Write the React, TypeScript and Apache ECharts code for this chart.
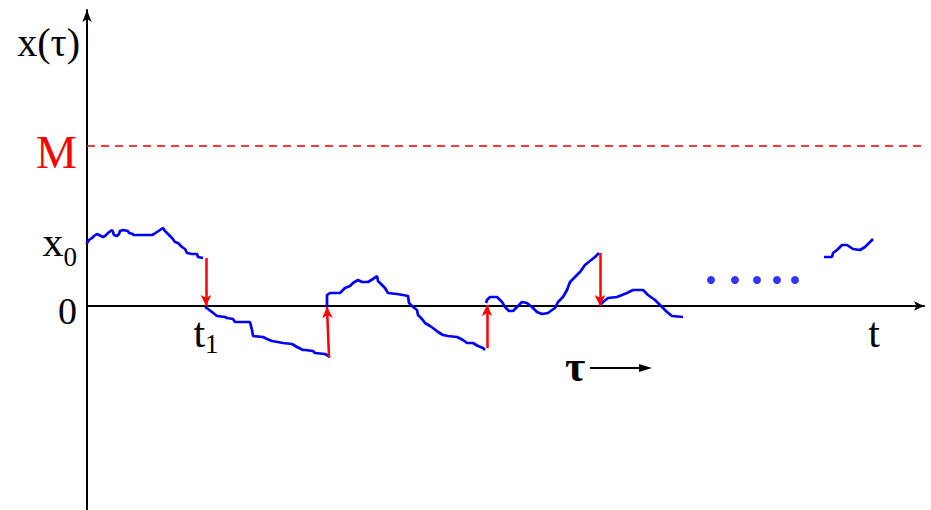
import React, { useEffect, useRef } from "react";
import * as echarts from "echarts";

// Walk excursions (τ, x) between resets
const excursion1: number[][] = [
  [0, 62], [0, 63], [2, 66], [5, 68], [7, 70], [10, 72], [12, 71], [16, 69], [18, 70], [21, 73],
  [25, 76], [26, 74], [27, 71], [30, 70], [32, 72], [33, 75], [36, 76], [41, 75], [42, 73], [46, 72],
  [46, 71], [65, 71], [67, 72], [70, 74], [73, 76], [76, 78], [78, 75], [81, 72], [85, 68], [88, 64],
  [91, 63], [95, 59], [98, 57], [100, 53], [105, 52], [110, 52], [111, 49], [116, 48],
];
const excursion2: number[][] = [
  [118, -1], [121, -3], [125, -6], [130, -10], [138, -11], [140, -12], [146, -13], [148, -16],
  [163, -16], [165, -24], [166, -30], [176, -31], [180, -33], [185, -35], [196, -37], [205, -38],
  [210, -41], [216, -44], [218, -44], [226, -45], [228, -47], [238, -48], [243, -51],
];
const excursion3: number[][] = [
  [240, -1], [240, 11], [243, 13], [253, 13], [255, 15], [258, 18], [263, 20], [266, 23], [271, 26],
  [275, 24], [281, 24], [286, 27], [290, 30], [291, 25], [295, 21], [298, 18], [301, 13], [310, 12],
  [316, 11], [321, 10], [322, 3], [326, -1], [330, -4], [331, -9], [335, -13], [338, -17], [343, -20],
  [346, -22], [351, -26], [356, -29], [361, -30], [370, -31], [376, -34], [380, -37], [386, -37],
  [391, -40], [396, -42], [398, -44],
];
const excursion4: number[][] = [
  [399, 3], [400, 6], [403, 9], [410, 9], [415, 4], [418, -1], [422, -5], [426, -5], [430, -1],
  [435, 4], [440, 3], [445, -1], [450, -6], [455, -8], [461, -7], [465, -4], [468, -2], [471, 4],
  [476, 9], [480, 16], [483, 24], [488, 29], [493, 34], [498, 41], [503, 45], [508, 49], [512, 53],
];
const excursion5: number[][] = [
  [513, 1], [516, 4], [521, 8], [530, 9], [535, 11], [540, 13], [546, 16], [556, 16], [561, 11],
  [568, 6], [575, -1], [580, -6], [585, -10], [596, -11],
];
const excursionLast: number[][] = [
  [737, 49], [745, 49], [746, 53], [750, 56], [755, 61], [760, 61], [766, 57], [773, 56], [778, 59],
  [786, 67],
];
const ellipsisDots: number[][] = [[624, 26], [648, 26], [670, 26], [690, 26], [708, 26]];

// Resets: [from τ, from x, to τ, to x]
const resets: number[][] = [
  [119, 48, 119, 0],
  [242, -51, 240, -1],
  [400, -42, 400, 1],
  [513, 53, 513, 0],
];

const M_LEVEL = 160;
const X0_LEVEL = 62;
const T1 = 119;
const T_END = 787;
const X_MIN = 0;
const X_MAX = 837;
const Y_MIN = -204;
const Y_MAX = 296;

const SERIF = "'Liberation Serif', 'Times New Roman', 'DejaVu Serif', serif";
const BLUE = "#0000ff";
const RED = "#ff0000";

const GRID_TOP = 10;
const GRID_BOTTOM = 0;
const CHART_H = 510;

export default function App() {
  const ref = useRef<HTMLDivElement>(null);
  useEffect(() => {
    if (!ref.current) return;
    const chart = echarts.init(ref.current, undefined, { renderer: "svg" });
    const gridH = CHART_H - GRID_TOP - GRID_BOTTOM;
    // move the x axis (line + labels) up to x = 0
    const zeroOffset = -((0 - Y_MIN) * gridH) / (Y_MAX - Y_MIN);
    const walkStyle = { color: BLUE, width: 2.7 };
    const walkSeries = [excursion1, excursion2, excursion3, excursion4, excursion5, excursionLast].map(
      (d) => ({
        type: "line",
        data: d,
        showSymbol: false,
        symbol: "none",
        lineStyle: walkStyle,
        itemStyle: { color: BLUE },
        silent: true,
        z: 3,
      })
    );
    chart.setOption({
      animation: false,
      grid: { left: 87, right: 7, top: GRID_TOP, bottom: GRID_BOTTOM, outerBoundsMode: "none", containLabel: false },
      xAxis: {
        type: "value",
        min: X_MIN,
        max: X_MAX,
        offset: zeroOffset,
        splitLine: { show: false },
        axisTick: { show: false },
        axisLine: {
          onZero: false,
          symbol: ["none", "arrow"],
          symbolSize: [7, 10],
          lineStyle: { color: "#000", width: 2 },
        },
        axisLabel: {
          customValues: [T1, T_END],
          margin: 6,
          formatter: (v: number) => (v === T1 ? "{t|t}{s|1}" : "{t|t}"),
          rich: {
            t: { fontFamily: SERIF, fontSize: 42, color: "#000", verticalAlign: "top", lineHeight: 44 },
            s: { fontFamily: SERIF, fontSize: 27, color: "#000", verticalAlign: "top", lineHeight: 44, padding: [18, 0, 0, 0] },
          },
        },
      },
      yAxis: {
        type: "value",
        min: Y_MIN,
        max: Y_MAX,
        splitLine: { show: false },
        axisTick: { show: false },
        axisLine: {
          onZero: false,
          symbol: ["none", "arrow"],
          symbolSize: [7, 12],
          lineStyle: { color: "#000", width: 2 },
        },
        name: "x(τ)",
        nameLocation: "end",
        nameGap: -12,
        nameTextStyle: {
          fontFamily: SERIF,
          fontSize: 40,
          color: "#000",
          align: "right",
          verticalAlign: "top",
          padding: [0, 7, 0, 0],
        },
        axisLabel: {
          customValues: [0, X0_LEVEL, M_LEVEL],
          margin: 10,
          formatter: (v: number) =>
            v === M_LEVEL ? "{m|M}" : v === X0_LEVEL ? "{x|x}{s|0}" : "{z|0}",
          rich: {
            m: { fontFamily: SERIF, fontSize: 46, color: RED, padding: [12, 0, 0, 0] },
            x: { fontFamily: SERIF, fontSize: 42, color: "#000", verticalAlign: "top", lineHeight: 46 },
            s: { fontFamily: SERIF, fontSize: 27, color: "#000", verticalAlign: "top", lineHeight: 46, padding: [22, 0, 0, 0] },
            z: { fontFamily: SERIF, fontSize: 38, color: "#000", padding: [9, 0, 0, 0] },
          },
        },
      },
      series: [
        ...walkSeries,
        {
          type: "scatter",
          data: ellipsisDots,
          symbol: "circle",
          symbolSize: 8,
          itemStyle: { color: BLUE },
          silent: true,
          z: 3,
        },
        {
          type: "line",
          data: [],
          markLine: {
            silent: true,
            symbol: ["none", "none"],
            label: { show: false },
            lineStyle: { color: RED, type: [8, 6], width: 1.6 },
            data: [{ yAxis: M_LEVEL }],
          },
        },
        {
          type: "line",
          data: [],
          z: 4,
          markLine: {
            silent: true,
            symbol: ["none", "arrow"],
            symbolSize: [8, 11],
            label: { show: false },
            lineStyle: { color: RED, type: "solid", width: 2.5 },
            data: resets.map((r) => [
              { coord: [r[0], r[1]] },
              { coord: [r[2], r[3]] },
            ]),
          },
        },
      ],
      graphic: [
        {
          type: "text",
          left: 565,
          top: 344,
          style: { text: "τ", fontFamily: SERIF, fontSize: 44, fontWeight: "bold", fill: "#000" },
        },
        {
          type: "line",
          shape: { x1: 590, y1: 368, x2: 642, y2: 368 },
          style: { stroke: "#000", lineWidth: 2 },
        },
        {
          type: "polygon",
          shape: { points: [[639, 364], [652, 368], [639, 372]] },
          style: { fill: "#000" },
        },
      ],
    });
    return () => chart.dispose();
  }, []);
  return <div ref={ref} style={{ width: 931, height: 510, position: "absolute", left: 0, top: 0 }} />;
}
